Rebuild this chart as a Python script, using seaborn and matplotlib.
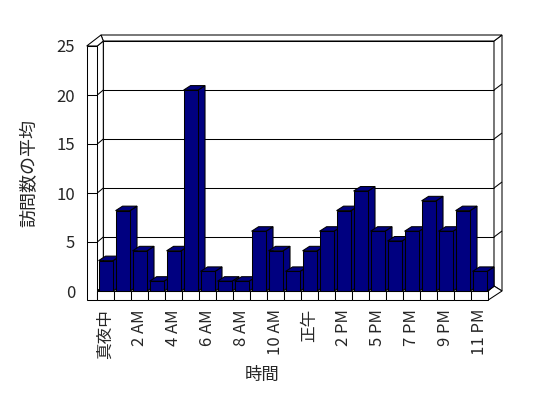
import matplotlib
matplotlib.use("Agg")
import matplotlib.pyplot as plt
from matplotlib.patches import Polygon
import seaborn as sns
import pandas as pd

# hours (3 PM is missing in the source data)
hours = ["真夜中", "1 AM", "2 AM", "3 AM", "4 AM", "5 AM", "6 AM", "7 AM", "8 AM", "9 AM",
         "10 AM", "11 AM", "正午", "1 PM", "2 PM", "4 PM", "5 PM", "6 PM", "7 PM", "8 PM",
         "9 PM", "10 PM", "11 PM"]
avg_visits = [3.1, 8.2, 4.1, 1.0, 4.1, 20.5, 2.0, 1.0, 1.0, 6.1, 4.1, 2.0,
              4.1, 6.1, 8.2, 10.2, 6.1, 5.1, 6.1, 9.2, 6.1, 8.2, 2.0]
y_ticks = [0, 5, 10, 15, 20, 25]

df = pd.DataFrame({"hour": hours, "visits": avg_visits})

sns.set_style("white")
plt.rcParams["font.family"] = ["Noto Sans CJK JP", "DejaVu Sans"]

W, H = 548, 398
fig = plt.figure(figsize=(W / 100, H / 100), dpi=100)

# pixel layout of the front plane
X0, XS = 97.3, 17.0     # px of x=-0.5, px per category
Y0, YS = 291.0, 9.8     # px of y=0, px per unit
n = len(hours)
ax = fig.add_axes([X0 / W, 1 - Y0 / H, n * XS / W, 25 * YS / H])


def px(x):
    return -0.5 + (x - X0) / XS


def py(y):
    return (Y0 - y) / YS


LW = 0.75
line_kw = dict(color="black", lw=LW, clip_on=False, solid_capstyle="butt")


def seg(x1, y1, x2, y2, z=2):
    ax.plot([px(x1), px(x2)], [py(y1), py(y2)], zorder=z, **line_kw)


def poly(pts, fc, z):
    ax.add_patch(Polygon([(px(a), py(b)) for a, b in pts], closed=True, fc=fc,
                         ec="black", lw=LW, clip_on=False, zorder=z))


# bars first so the container is easy to grab
sns.barplot(data=df, x="hour", y="visits", color="#000080", saturation=1,
            width=0.85, edgecolor="black", linewidth=LW, errorbar=None, ax=ax)
bars = list(ax.containers[0])
ax.set_xlim(-0.5, n - 0.5)
ax.set_ylim(0, 25)

# walls and floor
L_out, L_in, B_left = 86.7, X0, 103.3
R_in, R_out = 494.0, 502.0
F_right = X0 + n * XS
top_front, top_back, top_out = Y0 - 25 * YS, 41.0, 35.0
poly([(B_left, top_back), (R_in, top_back), (R_in, 286), (B_left, 286)], "white", 1)
poly([(R_in, top_back), (R_out, top_out), (R_out, 291), (R_in, 286)], "white", 1)
poly([(101, top_out), (R_out, top_out), (R_in, top_back), (B_left, top_back)], "white", 1)
poly([(L_in, top_front), (B_left, top_back), (B_left, 286), (L_in, Y0)], "white", 1)
poly([(L_out, top_front), (101, top_out), (B_left, top_back), (L_in, top_front)], "white", 1)
poly([(L_out, top_front), (L_in, top_front), (L_in, 300), (L_out, 300)], "white", 1)
poly([(L_in, Y0), (B_left, 286), (R_in, 286), (F_right, Y0)], "white", 1)
poly([(F_right, Y0), (R_in, 286), (R_out, 291), (F_right, 300)], "white", 1)
for k in range(n):
    poly([(X0 + k * XS, Y0), (X0 + (k + 1) * XS, Y0),
          (X0 + (k + 1) * XS, 300), (X0 + k * XS, 300)], "white", 1)

# gridlines running around the walls
for v in y_ticks[1:-1]:
    yf = Y0 - v * YS
    seg(L_out, yf, L_in, yf)
    seg(L_in, yf, B_left, yf - 5)
    seg(B_left, yf - 5, R_in, yf - 5)
    seg(R_in, yf - 5, R_out, yf - 11)

# depth faces of each bar
ddx, ddy = 7 / XS, 4.5 / YS
for k, bar in enumerate(bars):
    x, w, h = bar.get_x(), bar.get_width(), bar.get_height()
    bar.set_clip_on(False)
    bar.set_zorder(10 + 3 * k + 2)
    ax.add_patch(Polygon([(x + w, 0), (x + w + ddx, ddy), (x + w + ddx, h + ddy), (x + w, h)],
                         fc="#000080", ec="black", lw=LW, clip_on=False, zorder=10 + 3 * k))
    ax.add_patch(Polygon([(x, h), (x + w, h), (x + w + ddx, h + ddy), (x + ddx, h + ddy)],
                         fc="#000080", ec="black", lw=LW, clip_on=False, zorder=10 + 3 * k + 1))

for s in ax.spines.values():
    s.set_visible(False)
ax.set_facecolor("none")

ax.set_yticks(y_ticks)
ax.set_yticklabels([str(v) for v in y_ticks], fontsize=12)
ax.tick_params(axis="y", length=0, pad=16)
ax.set_xticks(range(0, n, 2))
ax.set_xticklabels(hours[::2], rotation=90, fontsize=12)
ax.tick_params(axis="x", length=0, pad=13)
ax.set_xlabel("")
ax.set_ylabel("")

fig.text(262 / W, 1 - 375 / H, "時間", ha="center", va="center", fontsize=12.5)
fig.text(29 / W, 1 - 173 / H, "訪問数の平均", ha="center", va="center", rotation=90, fontsize=13)

fig.savefig("out.png", dpi=100, facecolor="white")
